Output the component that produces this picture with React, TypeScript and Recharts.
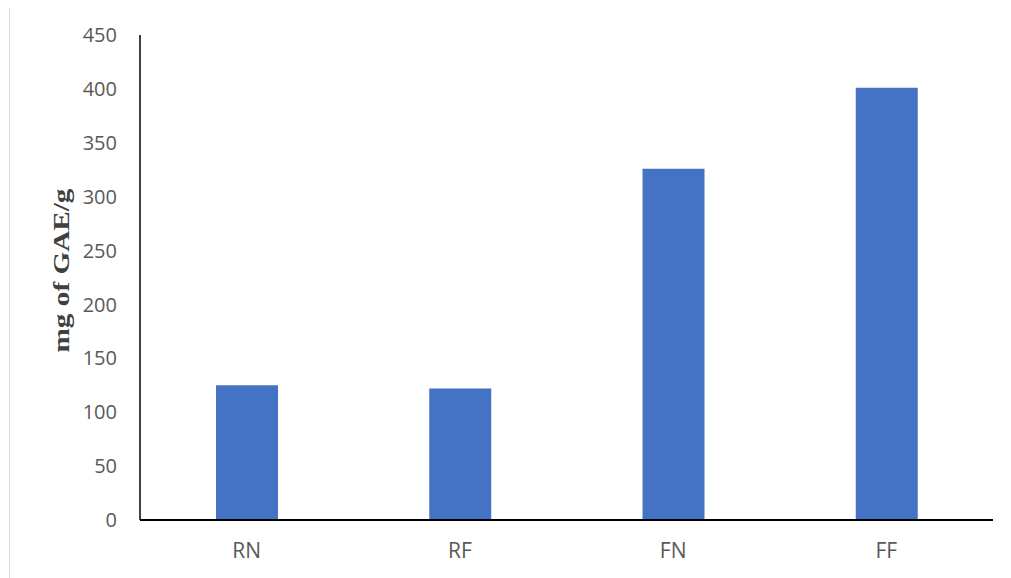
import { BarChart, Bar, XAxis, YAxis, Label } from 'recharts';

const SAMPLES = ['RN', 'RF', 'FN', 'FF'];
const GAE_VALUES = [125, 122, 326, 401];
const Y_TICKS = [0, 50, 100, 150, 200, 250, 300, 350, 400, 450];

const BAR_COLOR = '#4472C4';
const FONT = "'Open Sans', sans-serif";
const X_TICK_STYLE = { fontSize: 21, fill: '#595959', fontFamily: FONT };
const Y_TICK_STYLE = { fontSize: 20, fill: '#595959', fontFamily: FONT };

const chartData = SAMPLES.map((name, i) => ({ name, gae: GAE_VALUES[i] }));

// Rotated bold serif title, stretched along its baseline like the original
function YTitle(props: any) {
  const vb = props.viewBox || {};
  const cx = 51;
  const cy = vb.y + vb.height / 2 - 7;
  return (
    <text
      x={cx}
      y={cy}
      transform={`rotate(-90, ${cx}, ${cy})`}
      textAnchor="middle"
      dominantBaseline="central"
      fontFamily="'Liberation Serif', 'Times New Roman', serif"
      fontWeight="bold"
      fontSize={23}
      fill="#404040"
      textLength={164}
      lengthAdjust="spacingAndGlyphs"
    >
      mg of GAE/g
    </text>
  );
}

export default function App() {
  return (
    <div
      style={{
        margin: '-2px 0 0 1px',
        width: 998,
        height: 580,
        border: '1px solid #d9d9d9',
        background: '#fff',
      }}
    >
      <BarChart
        width={998}
        height={570}
        data={chartData}
        margin={{ top: 28, right: 15, bottom: 17, left: 0 }}
      >
        <XAxis
          dataKey="name"
          height={40}
          tick={X_TICK_STYLE}
          tickLine={false}
          tickSize={6}
          tickMargin={17}
          axisLine={{ stroke: '#000', strokeWidth: 2 }}
        />
        <YAxis
          width={130}
          domain={[0, 450]}
          ticks={Y_TICKS}
          interval={0}
          tick={Y_TICK_STYLE}
          tickLine={false}
          tickSize={6}
          tickMargin={17}
          axisLine={{ stroke: '#000', strokeWidth: 1.5 }}
        >
          <Label content={<YTitle />} />
        </YAxis>
        <Bar dataKey="gae" fill={BAR_COLOR} barSize={62} isAnimationActive={false} />
      </BarChart>
    </div>
  );
}
